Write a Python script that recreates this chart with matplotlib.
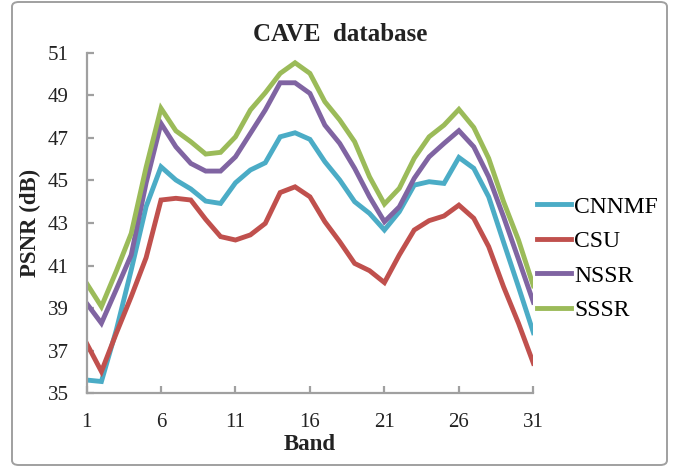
import numpy as np
import matplotlib.pyplot as plt
from matplotlib.patches import FancyBboxPatch

# PSNR per band on the CAVE database
bands = np.arange(1, 32)

cnnmf = [35.62, 35.55, 37.97, 40.79, 43.77, 45.64, 45.02, 44.60, 44.03, 43.92,
         44.89, 45.49, 45.83, 47.05, 47.24, 46.93, 45.88, 45.02, 44.00, 43.45,
         42.67, 43.53, 44.78, 44.94, 44.86, 46.08, 45.57, 44.23, 42.10, 40.00,
         37.85]
csu = [37.35, 36.02, 37.82, 39.54, 41.37, 44.08, 44.16, 44.08, 43.17, 42.36,
       42.20, 42.44, 42.98, 44.43, 44.70, 44.23, 43.06, 42.12, 41.10, 40.76,
       40.20, 41.50, 42.67, 43.11, 43.33, 43.84, 43.22, 41.89, 40.00, 38.29,
       36.41]
nssr = [39.23, 38.29, 39.88, 41.50, 44.88, 47.68, 46.58, 45.80, 45.44, 45.44,
        46.11, 47.21, 48.31, 49.59, 49.59, 49.09, 47.60, 46.74, 45.57, 44.23,
        43.06, 43.76, 45.10, 46.11, 46.74, 47.34, 46.58, 45.17, 43.29, 41.30,
        39.28]
sssr = [40.17, 39.07, 40.74, 42.51, 45.62, 48.39, 47.33, 46.82, 46.24, 46.32,
        47.05, 48.31, 49.12, 50.03, 50.53, 50.03, 48.70, 47.84, 46.82, 45.17,
        43.89, 44.63, 46.04, 47.05, 47.60, 48.34, 47.49, 46.04, 44.00, 42.20,
        40.05]

names = ['CNNMF', 'CSU', 'NSSR', 'SSSR']
colors = ['#4BACC6', '#C0504D', '#8064A2', '#9BBB59']

plt.rcParams['font.family'] = 'Liberation Serif'

fig = plt.figure(figsize=(6.76, 4.67), dpi=100)
ax = fig.add_axes([0.128, 0.158, 0.661, 0.729])

for vals, name, c in zip([cnnmf, csu, nssr, sssr], names, colors):
    ax.plot(bands, vals, color=c, lw=3.5, label=name, solid_joinstyle='miter')

ax.set_xlim(1, 31)
ax.set_ylim(35, 51)
ax.set_xticks(np.arange(1, 32, 5))
ax.set_yticks(np.arange(35, 52, 2))

for s in ['top', 'right']:
    ax.spines[s].set_visible(False)
for s in ['left', 'bottom']:
    ax.spines[s].set_color('#A0A0A0')
    ax.spines[s].set_linewidth(1.6)
ax.tick_params(direction='in', length=5, width=1.6, color='#A0A0A0',
               labelsize=15, labelcolor='#222222')
ax.tick_params(axis='x', pad=14)
ax.tick_params(axis='y', pad=13)

fig.text(0.503, 0.927, 'CAVE  database', fontsize=18, fontweight='bold',
         ha='center', va='center', color='#222222')
ax.set_xlabel('Band', fontsize=16.5, fontweight='bold', va='center',
              color='#222222')
ax.xaxis.set_label_coords(0.5, -0.152)
ax.set_ylabel('PSNR (dB)', fontsize=16.5, fontweight='bold', va='center',
              color='#222222')
ax.yaxis.set_label_coords(-0.125, 0.5)

ax.legend(loc='center left', bbox_to_anchor=(1.008, 0.395), frameon=False,
          fontsize=17, handlelength=1.45, handletextpad=0.13,
          labelspacing=0.55, borderpad=0, borderaxespad=0)

# outer chart border
fig.patches.append(FancyBboxPatch((12 / 676, 2 / 467), 655 / 676, 463 / 467,
                                  boxstyle='round,pad=0,rounding_size=0.01',
                                  transform=fig.transFigure, fill=False,
                                  edgecolor='#A0A0A0', lw=1.4))

fig.savefig('out.png', dpi=100)
